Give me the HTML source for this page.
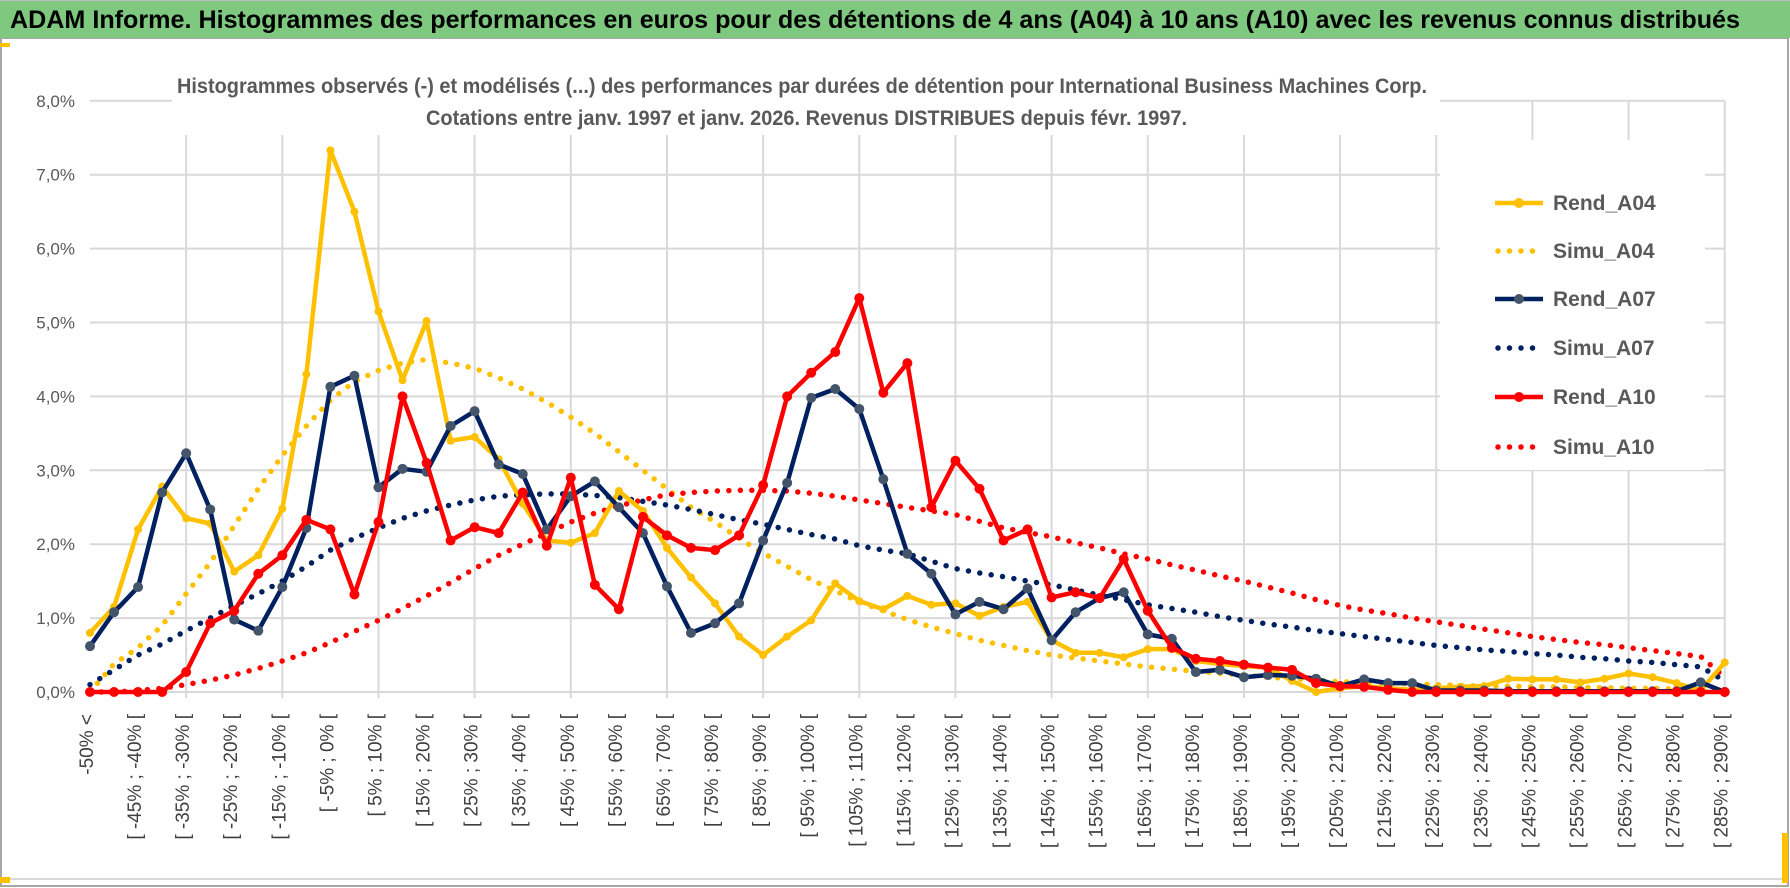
<!DOCTYPE html>
<html><head><meta charset="utf-8">
<style>
html,body{margin:0;padding:0;background:#fff;}
svg{display:block;font-family:"Liberation Sans Narrow","Liberation Sans",sans-serif;}
</style></head>
<body>
<svg id="chart" width="1790" height="888" viewBox="0 0 1790 888" xmlns="http://www.w3.org/2000/svg">
  <rect x="1" y="38" width="1787" height="848" fill="#fff" stroke="#a6a6a6" stroke-width="2"/>
  <rect x="0" y="0" width="1790" height="38" fill="#7ec87f"/>
  <line x1="0" y1="0" x2="1790" y2="0" stroke="#bbb" stroke-width="2"/>
  <text x="10" y="28" font-size="25" font-weight="bold" fill="#000" textLength="1730" lengthAdjust="spacingAndGlyphs">ADAM Informe. Histogrammes des performances en euros pour des détentions de 4 ans (A04) à 10 ans (A10) avec les revenus connus distribués</text>
  <line x1="2" y1="879" x2="1786" y2="879" stroke="#d9d9d9" stroke-width="2"/>
  <rect x="0" y="43" width="10" height="4" fill="#ffc000"/>
  <rect x="0" y="877" width="10" height="6" fill="#ffc000"/>
  <rect x="1782" y="833" width="6" height="50" fill="#ffc000"/>
  <g id="grid"></g>
  <g id="yaxis"></g>
  <g id="xaxis"></g>
  <rect x="172" y="70" width="1268" height="65" fill="#fff"/>
  <text x="177" y="93" font-size="21" font-weight="bold" fill="#595959" textLength="1250" lengthAdjust="spacingAndGlyphs">Histogrammes observés (-) et modélisés (...) des performances par durées de détention pour International Business Machines Corp.</text>
  <text x="426" y="125" font-size="21" font-weight="bold" fill="#595959" textLength="761" lengthAdjust="spacingAndGlyphs">Cotations entre janv. 1997 et janv. 2026. Revenus DISTRIBUES depuis févr. 1997.</text>
  <rect x="1440" y="140" width="265" height="330" fill="#fff"/>
  <g id="series"></g>
  <g id="legend"></g>
</svg>
<script>
const categories = ["-50% <"];
for (let i = 1; i <= 68; i++) { categories.push("[ " + (-55 + 5 * i) + "% ; " + (-50 + 5 * i) + "% ["); }

const rendA04 = [0.8,1.15,2.2,2.78,2.35,2.28,1.63,1.85,2.48,4.3,7.33,6.5,5.15,4.22,5.02,3.4,3.45,3.15,2.55,2.05,2.02,2.15,2.72,2.45,1.95,1.55,1.2,0.75,0.5,0.75,0.97,1.47,1.23,1.12,1.3,1.18,1.2,1.03,1.15,1.22,0.7,0.53,0.53,0.47,0.58,0.58,0.42,0.38,0.35,0.33,0.15,0.0,0.05,0.08,0.05,0.03,0.05,0.07,0.08,0.18,0.17,0.17,0.13,0.18,0.25,0.2,0.12,0.02,0.4];
const simuA04 = [0,0.38,0.6,0.9,1.33,1.75,2.25,2.75,3.2,3.6,3.95,4.2,4.35,4.45,4.5,4.45,4.38,4.25,4.1,3.92,3.72,3.5,3.25,3.0,2.75,2.5,2.3,2.08,1.88,1.7,1.52,1.37,1.22,1.1,0.98,0.88,0.79,0.7,0.63,0.56,0.5,0.46,0.42,0.38,0.34,0.31,0.28,0.25,0.23,0.2,0.18,0.16,0.14,0.13,0.12,0.11,0.1,0.09,0.08,0.08,0.07,0.07,0.06,0.06,0.05,0.05,0.04,0.04,0.04];
const rendA07 = [0.62,1.08,1.42,2.7,3.23,2.47,0.98,0.83,1.42,2.22,4.13,4.28,2.77,3.02,2.98,3.6,3.8,3.08,2.95,2.2,2.65,2.85,2.5,2.15,1.43,0.8,0.93,1.2,2.05,2.83,3.98,4.1,3.83,2.88,1.87,1.6,1.05,1.22,1.12,1.4,0.7,1.08,1.27,1.35,0.78,0.72,0.27,0.3,0.2,0.23,0.22,0.18,0.08,0.17,0.12,0.12,0.02,0.02,0.02,0.01,0.01,0.01,0.01,0.01,0.01,0.01,0.01,0.13,0];
const simuA07 = [0.1,0.3,0.5,0.65,0.83,1.0,1.17,1.33,1.5,1.7,1.92,2.08,2.22,2.35,2.45,2.53,2.6,2.65,2.67,2.68,2.68,2.66,2.63,2.58,2.53,2.47,2.4,2.33,2.27,2.2,2.13,2.07,1.98,1.92,1.87,1.77,1.67,1.61,1.56,1.5,1.45,1.38,1.31,1.25,1.18,1.13,1.08,1.02,0.97,0.92,0.88,0.83,0.79,0.75,0.71,0.67,0.63,0.6,0.57,0.55,0.52,0.5,0.47,0.45,0.42,0.4,0.37,0.34,0.15];
const rendA10 = [0,0,0,0,0.27,0.93,1.1,1.6,1.85,2.33,2.2,1.32,2.3,4.0,3.1,2.05,2.23,2.15,2.7,1.98,2.9,1.45,1.12,2.37,2.12,1.95,1.92,2.12,2.8,4.0,4.32,4.6,5.33,4.05,4.45,2.5,3.13,2.75,2.05,2.2,1.28,1.35,1.27,1.8,1.1,0.6,0.45,0.42,0.37,0.33,0.3,0.12,0.08,0.07,0.03,0,0,0,0,0,0,0,0,0,0,0,0,0,0];
const simuA10 = [0,0,0.02,0.05,0.1,0.16,0.23,0.32,0.42,0.53,0.67,0.82,0.97,1.13,1.3,1.48,1.67,1.85,2.0,2.15,2.3,2.42,2.52,2.6,2.67,2.7,2.72,2.73,2.73,2.72,2.69,2.65,2.6,2.55,2.5,2.45,2.4,2.31,2.22,2.16,2.1,2.02,1.95,1.87,1.8,1.72,1.65,1.57,1.5,1.42,1.34,1.25,1.17,1.11,1.06,1.0,0.95,0.9,0.85,0.8,0.75,0.71,0.67,0.64,0.6,0.56,0.52,0.48,0.2];
const yTicks = [0,1,2,3,4,5,6,7,8];
const legendNames = ["Rend_A04","Simu_A04","Rend_A07","Simu_A07","Rend_A10","Simu_A10"];

const NS = "http://www.w3.org/2000/svg";
const X0 = 90, XSTEP = 24.04, Y0 = 692, YUNIT = 73.9;
function xPos(i) { return X0 + XSTEP * i; }
function yPos(v) { return Y0 - YUNIT * v; }
function mk(tag, attrs, parent) {
  const e = document.createElementNS(NS, tag);
  for (const k in attrs) e.setAttribute(k, attrs[k]);
  parent.appendChild(e);
  return e;
}
const grid = document.getElementById("grid");
const yaxis = document.getElementById("yaxis");
const xaxis = document.getElementById("xaxis");
const series = document.getElementById("series");
const legend = document.getElementById("legend");
const xEnd = xPos(categories.length - 1);

yTicks.forEach(function (t) {
  const gl = mk("line", {x1: X0, x2: xEnd, y1: yPos(t), y2: yPos(t), stroke: "#d9d9d9", "stroke-width": 2}, grid);
  
  
  const tl = mk("text", {x: 75, y: yPos(t) + 6, "text-anchor": "end", "font-size": 17, fill: "#595959"}, yaxis);
  tl.textContent = t.toFixed(1).replace(".", ",") + "%";
  
  
});
for (let i = 4; i < categories.length; i += 4) {
  const vl = mk("line", {x1: xPos(i), x2: xPos(i), y1: yPos(8), y2: Y0 + 6, stroke: "#d9d9d9", "stroke-width": 2}, grid);
  
  
}
categories.forEach(function (c, i) {
  if (i % 2 !== 0) return;
  const x = xPos(i) + 3;
  const lb = mk("text", {x: x, y: 714, "text-anchor": "end", "font-size": 19, fill: "#404040", "font-family": "Liberation Sans, sans-serif", transform: "rotate(-90 " + x + " 714)"}, xaxis);
  lb.textContent = c;
  
  
});

function pathFrom(vals) {
  return vals.map(function (v, i) { return (i ? "L" : "M") + xPos(i).toFixed(1) + " " + yPos(v).toFixed(1); }).join(" ");
}
function drawRend(vals, color, mcolor, r, name) {
  const p = mk("path", {d: pathFrom(vals), fill: "none", stroke: color, "stroke-width": 4.5, "stroke-linejoin": "round"}, series);
  
  
  vals.forEach(function (v, i) {
    const c = mk("circle", {cx: xPos(i), cy: yPos(v), r: r, fill: mcolor}, series);
    
    
  });
}
function drawSimu(vals, color, name) {
  const p = mk("path", {d: pathFrom(vals), fill: "none", stroke: color, "stroke-width": 5.5, "stroke-linecap": "round", "stroke-dasharray": "0 11.5"}, series);
  
  
}
drawSimu(simuA04, "#ffc000", "simu-a04");
drawSimu(simuA07, "#002060", "simu-a07");
drawSimu(simuA10, "#ff0000", "simu-a10");
drawRend(rendA04, "#ffc000", "#ffc000", 4, "rend-a04");
drawRend(rendA07, "#002060", "#44546a", 5, "rend-a07");
drawRend(rendA10, "#ff0000", "#ff0000", 5, "rend-a10");

const legColors = ["#ffc000","#ffc000","#002060","#002060","#ff0000","#ff0000"];
const legY = [203, 251, 299, 348, 397, 447];
legendNames.forEach(function (n, k) {
  const y = legY[k];
  let ln;
  if (k % 2 === 0) {
    ln = mk("line", {x1: 1495, x2: 1543, y1: y, y2: y, stroke: legColors[k], "stroke-width": 4.5}, legend);
    const mc = mk("circle", {cx: 1519, cy: y, r: 5, fill: k === 2 ? "#44546a" : legColors[k]}, legend);
    
    
  } else {
    ln = mk("line", {x1: 1498, x2: 1543, y1: y, y2: y, stroke: legColors[k], "stroke-width": 5.5, "stroke-linecap": "round", "stroke-dasharray": "0 11.5"}, legend);
  }
  
  
  const t = mk("text", {x: 1553, y: y + 7, "font-size": 21, "font-weight": "bold", fill: "#595959"}, legend);
  t.textContent = n;
  
  
});
</script>
</body></html>
